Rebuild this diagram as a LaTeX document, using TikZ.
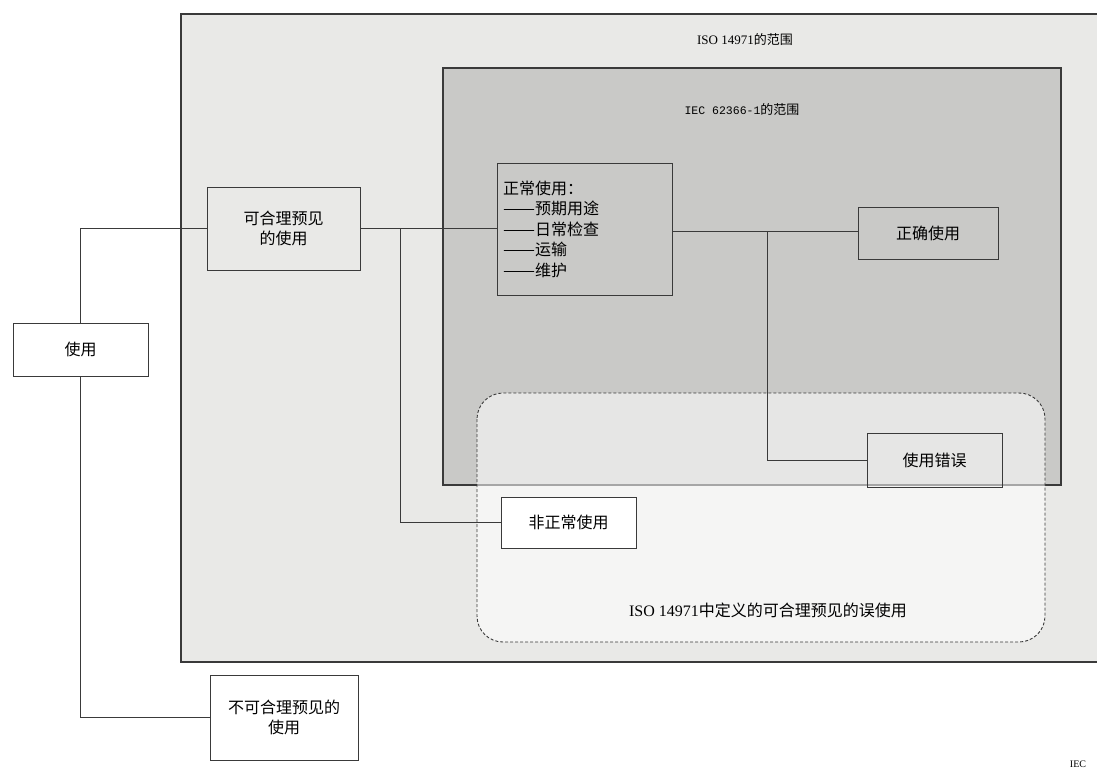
\documentclass[tikz,border=0pt]{standalone}
\usepackage{fontspec}
\usepackage{graphicx}
\setmainfont{Liberation Serif}
\newfontfamily\cjk{Noto Sans CJK SC}
\newfontfamily\lmono{Liberation Mono}
\newcommand{\longdash}{\resizebox{32pt}{\height}{——}}
\definecolor{isobg}{HTML}{E9E9E7}
\definecolor{iecbg}{HTML}{C9C9C7}
\definecolor{ln}{HTML}{3A3A3A}
\tikzset{
  box/.style={draw=ln, line width=0.9pt, inner sep=2pt, align=center,
    font=\cjk\fontsize{16}{20}\selectfont},
  conn/.style={draw=ln, line width=0.9pt},
  lbl/.style={inner sep=0pt, font=\fontsize{13}{16}\selectfont}
}
\begin{document}
\begin{tikzpicture}[x=1pt,y=-1pt]
\useasboundingbox (0,0) rectangle (1097,781);
\clip (0,0) rectangle (1097,781);
\fill[white] (0,0) rectangle (1097,781);
% ISO 14971 scope
\draw[fill=isobg, draw=ln, line width=1.3pt] (181,14) rectangle (1110,662);
% IEC 62366-1 scope
\draw[fill=iecbg, draw=ln, line width=1.1pt] (443,68) rectangle (1061,485);
% foreseeable misuse region
\fill[white, fill opacity=0.55, rounded corners=26pt] (477,393) rectangle (1045,642);
\draw[ln, line width=0.9pt, dashed, dash pattern=on 3pt off 2pt, rounded corners=26pt] (477,393) rectangle (1045,642);

\node[lbl] (isot) at (745,40) {ISO 14971{\cjk 的范围}};
\node[lbl] (iect) at (742,110) {{\lmono\fontsize{11.5}{14}\selectfont IEC 62366-1}{\cjk 的范围}};
\node[lbl, font=\fontsize{16}{18}\selectfont] (mist) at (768,610) {ISO 14971{\cjk 中定义的可合理预见的误使用}};
\node[lbl, font=\fontsize{10}{12}\selectfont] (iec) at (1078,764) {IEC};

\node[box, minimum width=135pt, minimum height=53pt] (use) at (80.5,349.5) {使用};
\node[box, minimum width=153pt, minimum height=83pt] (kh) at (283.5,228.5) {可合理预见\\的使用};
\node[box, minimum width=148pt, minimum height=85pt] (bk) at (284,717.5) {不可合理预见的\\使用};
\node[box, minimum width=175pt, minimum height=132pt, align=left,
  text width=163pt, inner sep=6pt, font=\cjk\fontsize{16}{20.5}\selectfont] (zc) at (584.5,229)
  {正常使用：\\\longdash 预期用途\\\longdash 日常检查\\\longdash 运输\\\longdash 维护};
\node[box, minimum width=140pt, minimum height=52pt] (zq) at (928,233) {正确使用};
\node[box, minimum width=135pt, minimum height=54pt] (cw) at (934.5,460) {使用错误};
\node[box, fill=white, minimum width=135pt, minimum height=51pt] (fz) at (568.5,522.5) {非正常使用};

\coordinate (b1) at (400,228.5);
\coordinate (b2) at (767,231);
\draw[conn] (use.north) |- (kh.west);
\draw[conn] (use.south) |- (bk.west);
\draw[conn] (kh.east) -- (kh.east -| zc.west);
\draw[conn] (b1) |- (fz.west);
\draw[conn] (zc.east |- b2) -- (zq.west |- b2);
\draw[conn] (b2) |- (cw.west);
\end{tikzpicture}
\end{document}
